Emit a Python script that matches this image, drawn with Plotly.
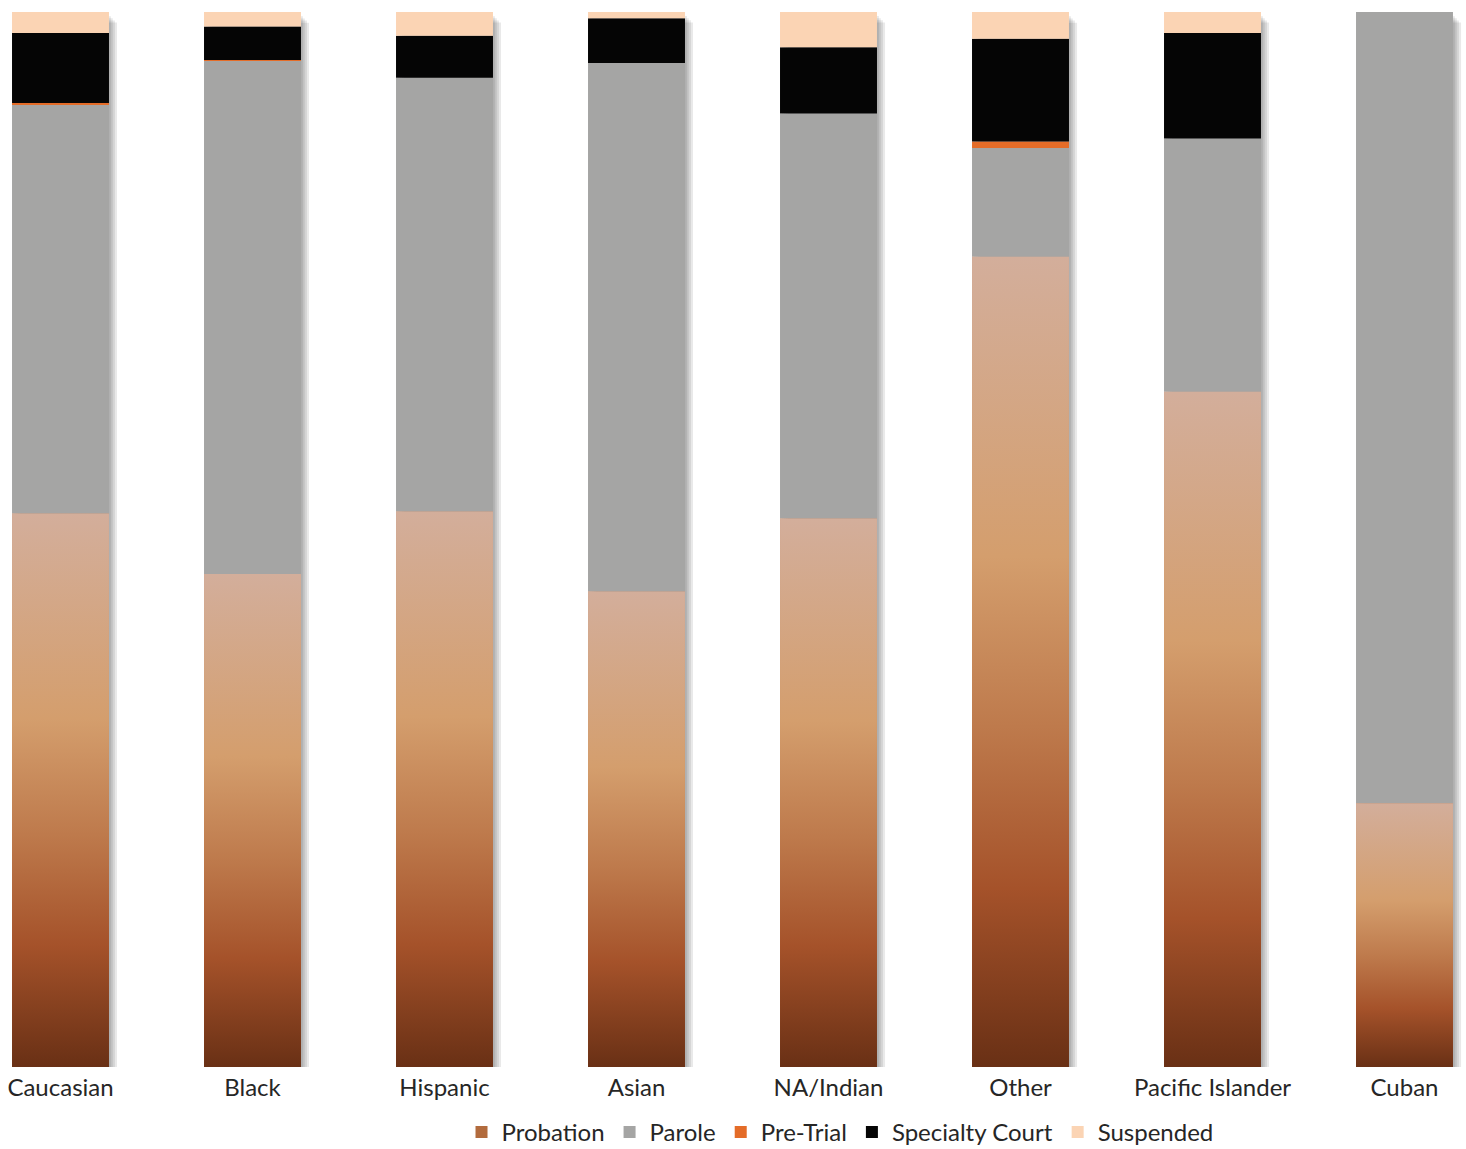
import numpy as np
import plotly.graph_objects as go

# ---------------- data (percent of each group) ----------------
categories = ["Caucasian", "Black", "Hispanic", "Asian", "NA/Indian",
              "Other", "Pacific Islander", "Cuban"]
probation = [52.47, 46.73, 52.66, 45.08, 52.00, 76.80, 64.00, 25.00]
parole = [38.80, 48.65, 41.11, 50.09, 38.39, 10.30, 24.00, 75.00]
pre_trial = [0.10, 0.07, 0.00, 0.00, 0.00, 0.63, 0.00, 0.00]
specialty_court = [6.64, 3.18, 3.98, 4.23, 6.26, 9.73, 10.00, 0.00]
suspended = [1.99, 1.36, 2.25, 0.61, 3.36, 2.53, 2.00, 0.00]

# ---------------- styles ----------------
BAR_W = 0.505
TEXT = "#262626"
FONT = "Lato"
series = [
    ("Probation", probation, "#B26B3D"),
    ("Parole", parole, "#A5A5A4"),
    ("Pre-Trial", pre_trial, "#E46C28"),
    ("Specialty Court", specialty_court, "#050505"),
    ("Suspended", suspended, "#FBD4B4"),
]
probation_gradient = [
    [0.00, "#693015"],
    [0.22, "#A5522A"],
    [0.42, "#BE7A4C"],
    [0.63, "#D49E6D"],
    [1.00, "#D3AE9B"],
]
shadow_layers = [(0.010, 0.4), (0.020, 0.6), (0.031, 0.8), (0.042, 1.0)]

x = np.arange(len(categories))
totals = np.sum([np.array(s[1], float) for s in series], axis=0)

fig = go.Figure()

# soft drop shadow behind each column
for dx, dy in shadow_layers:
    fig.add_trace(go.Bar(
        x=x, y=totals - dy, base=0, width=BAR_W, offset=-BAR_W / 2 + dx,
        marker=dict(color="rgba(0,0,0,0.085)", line=dict(width=0)),
        showlegend=False, hoverinfo="skip"))

# stacked segments
base = np.zeros(len(categories))
for name, vals, color in series:
    vals = np.array(vals, float)
    fig.add_trace(go.Bar(
        x=x, y=vals, base=base, width=BAR_W, name=name,
        marker=dict(color=color, line=dict(width=0)),
        hovertemplate="%{y:.2f}%<extra>" + name + "</extra>"))
    base = base + vals

# gradient fill for the probation segment of each column
for i, v in enumerate(probation):
    fig.add_trace(go.Scatter(
        x=[i - BAR_W / 2, i + BAR_W / 2, i + BAR_W / 2, i - BAR_W / 2, i - BAR_W / 2],
        y=[0, 0, v, v, 0],
        fill="toself", mode="lines", line=dict(width=0),
        fillgradient=dict(type="vertical", colorscale=probation_gradient),
        showlegend=False, hoverinfo="skip"))

fig.update_layout(
    width=1466, height=1149,
    margin=dict(l=0, r=0, t=12, b=82, autoexpand=False),
    barmode="overlay",
    template="none",
    paper_bgcolor="white", plot_bgcolor="white",
    font=dict(family=FONT, size=24, color=TEXT),
    showlegend=True,
    legend=dict(orientation="h", x=0.573, xanchor="center",
                y=-0.062, yanchor="middle",
                font=dict(family=FONT, size=24, color=TEXT),
                bgcolor="rgba(0,0,0,0)", traceorder="normal"),
)
fig.update_xaxes(range=[-0.3151, 7.3203], tickmode="array", tickvals=x,
                 ticktext=categories, showgrid=False, zeroline=False,
                 showline=False, ticks="", automargin=False,
                 ticklabelstandoff=4,
                 tickfont=dict(family=FONT, size=24, color=TEXT))
fig.update_yaxes(range=[0, 100], visible=False, automargin=False)

fig.write_html("out.html", config={"displayModeBar": False},
               post_script="document.body.style.margin='0';document.body.style.overflow='hidden';")
